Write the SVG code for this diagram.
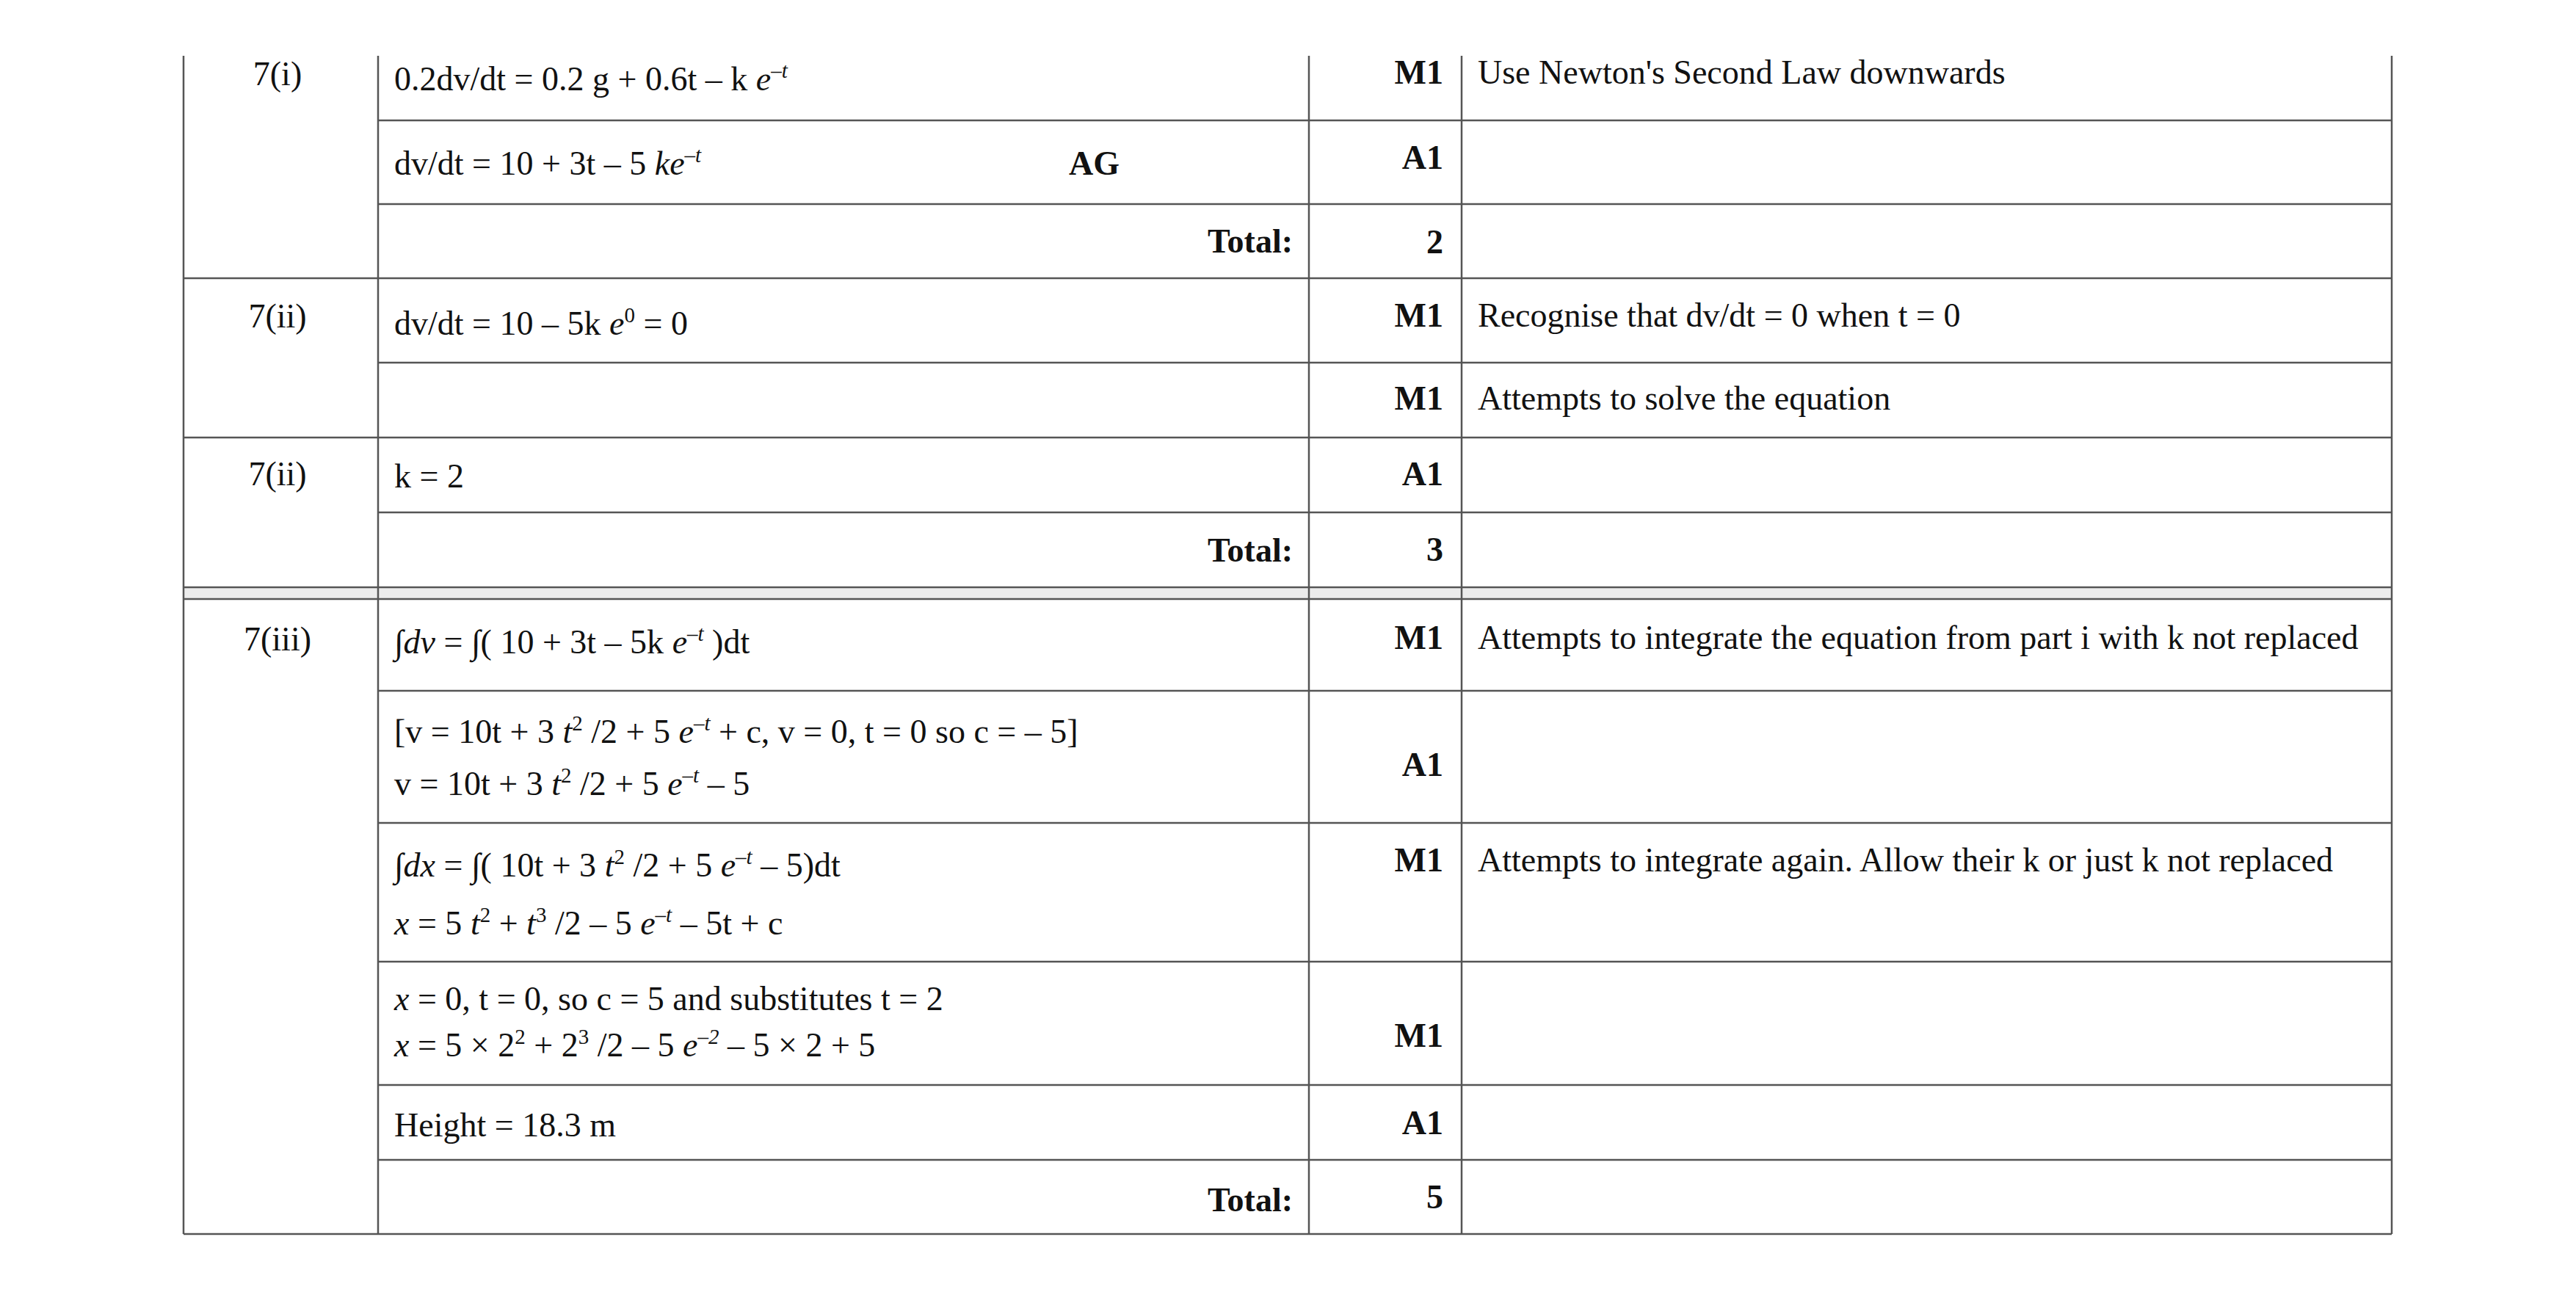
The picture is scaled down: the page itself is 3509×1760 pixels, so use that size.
<svg xmlns="http://www.w3.org/2000/svg" width="3509" height="1760" viewBox="0 0 3509 1760" xml:space="preserve">
<style>
text{font-family:"Liberation Serif","Times New Roman",serif;font-size:46px;fill:#111}
.b{font-weight:bold}
.r{text-anchor:end}
.c{text-anchor:middle}
.i{font-style:italic}
.s{font-size:29px}
line{stroke:#555;stroke-width:2.5}
</style>
<rect width="3509" height="1760" fill="#fff"/>
<g id="grid">
<rect x="250" y="800" width="3008" height="16" fill="#ececec"/>
<line x1="250" y1="76" x2="250" y2="1681"/>
<line x1="515" y1="76" x2="515" y2="1681"/>
<line x1="1783" y1="76" x2="1783" y2="1681"/>
<line x1="1991" y1="76" x2="1991" y2="1681"/>
<line x1="3258" y1="76" x2="3258" y2="1681"/>
<line x1="515" y1="164" x2="3258" y2="164"/>
<line x1="515" y1="278" x2="3258" y2="278"/>
<line x1="250" y1="379" x2="3258" y2="379"/>
<line x1="515" y1="494" x2="3258" y2="494"/>
<line x1="250" y1="596" x2="3258" y2="596"/>
<line x1="515" y1="698" x2="3258" y2="698"/>
<line x1="250" y1="800" x2="3258" y2="800"/>
<line x1="250" y1="816" x2="3258" y2="816"/>
<line x1="515" y1="941" x2="3258" y2="941"/>
<line x1="515" y1="1121" x2="3258" y2="1121"/>
<line x1="515" y1="1310" x2="3258" y2="1310"/>
<line x1="515" y1="1478" x2="3258" y2="1478"/>
<line x1="515" y1="1580" x2="3258" y2="1580"/>
<line x1="250" y1="1681" x2="3258" y2="1681"/>
</g>
<g id="labels">
<text class="c" x="378" y="116">7(i)</text>
<text class="c" x="378" y="446">7(ii)</text>
<text class="c" x="378" y="661">7(ii)</text>
<text class="c" x="378" y="886">7(iii)</text>
</g>
<g id="work">
<text x="537" y="123">0.2dv/dt = 0.2 g + 0.6t – k <tspan class="i">e</tspan><tspan class="s i" dy="-17">–t</tspan></text>
<text x="537" y="238">dv/dt = 10 + 3t – 5 <tspan class="i">ke</tspan><tspan class="s i" dy="-17">–t</tspan></text>
<text class="b" x="1456" y="238">AG</text>
<text class="b r" x="1761" y="344">Total:</text>
<text x="537" y="456">dv/dt = 10 – 5k <tspan class="i">e</tspan><tspan class="s" dy="-17">0</tspan><tspan dy="17">  = 0</tspan></text>
<text x="537" y="664">k = 2</text>
<text class="b r" x="1761" y="765">Total:</text>
<text x="537" y="890"><tspan class="i">∫dv</tspan>  = ∫( 10 + 3t – 5k <tspan class="i">e</tspan><tspan class="s i" dy="-17">–t</tspan><tspan dy="17"> )dt</tspan></text>
<text x="537" y="1012">[v = 10t + 3 <tspan class="i">t</tspan><tspan class="s" dy="-17">2</tspan><tspan dy="17">  /2 + 5 </tspan><tspan class="i">e</tspan><tspan class="s i" dy="-17">–t</tspan><tspan dy="17">  + c, v = 0, t = 0 so c = – 5]</tspan></text>
<text x="537" y="1083">v = 10t + 3 <tspan class="i">t</tspan><tspan class="s" dy="-17">2</tspan><tspan dy="17"> /2 + 5 </tspan><tspan class="i">e</tspan><tspan class="s i" dy="-17">–t</tspan><tspan dy="17">  – 5</tspan></text>
<text x="537" y="1194"><tspan class="i">∫dx</tspan>  = ∫( 10t + 3 <tspan class="i">t</tspan><tspan class="s" dy="-17">2</tspan><tspan dy="17"> /2 + 5 </tspan><tspan class="i">e</tspan><tspan class="s i" dy="-17">–t</tspan><tspan dy="17">  – 5)dt</tspan></text>
<text x="537" y="1273"><tspan class="i">x</tspan> = 5 <tspan class="i">t</tspan><tspan class="s" dy="-17">2</tspan><tspan dy="17">  + </tspan><tspan class="i">t</tspan><tspan class="s" dy="-17">3</tspan><tspan dy="17"> /2 – 5 </tspan><tspan class="i">e</tspan><tspan class="s i" dy="-17">–t</tspan><tspan dy="17">  – 5t + c</tspan></text>
<text x="537" y="1376"><tspan class="i">x</tspan> = 0, t = 0, so c = 5 and substitutes t = 2</text>
<text x="537" y="1439"><tspan class="i">x</tspan> = 5 × 2<tspan class="s" dy="-17">2</tspan><tspan dy="17">  + 2</tspan><tspan class="s" dy="-17">3</tspan><tspan dy="17"> /2 – 5 </tspan><tspan class="i">e</tspan><tspan class="s i" dy="-17">–2</tspan><tspan dy="17">  – 5 × 2 + 5</tspan></text>
<text x="537" y="1548">Height = 18.3 m</text>
<text class="b r" x="1761" y="1650">Total:</text>
</g>
<g id="marks">
<text class="b r" x="1966" y="114">M1</text>
<text class="b r" x="1966" y="230">A1</text>
<text class="b r" x="1966" y="345">2</text>
<text class="b r" x="1966" y="445">M1</text>
<text class="b r" x="1966" y="558">M1</text>
<text class="b r" x="1966" y="661">A1</text>
<text class="b r" x="1966" y="764">3</text>
<text class="b r" x="1966" y="884">M1</text>
<text class="b r" x="1966" y="1057">A1</text>
<text class="b r" x="1966" y="1187">M1</text>
<text class="b r" x="1966" y="1426">M1</text>
<text class="b r" x="1966" y="1545">A1</text>
<text class="b r" x="1966" y="1646">5</text>
</g>
<g id="guidance">
<text x="2013" y="114">Use Newton's Second Law downwards</text>
<text x="2013" y="445">Recognise that dv/dt = 0 when t = 0</text>
<text x="2013" y="558">Attempts to solve the equation</text>
<text x="2013" y="884">Attempts to integrate the equation from part i with k not replaced</text>
<text x="2013" y="1187">Attempts to integrate again. Allow their k or just k not replaced</text>
</g>
</svg>
